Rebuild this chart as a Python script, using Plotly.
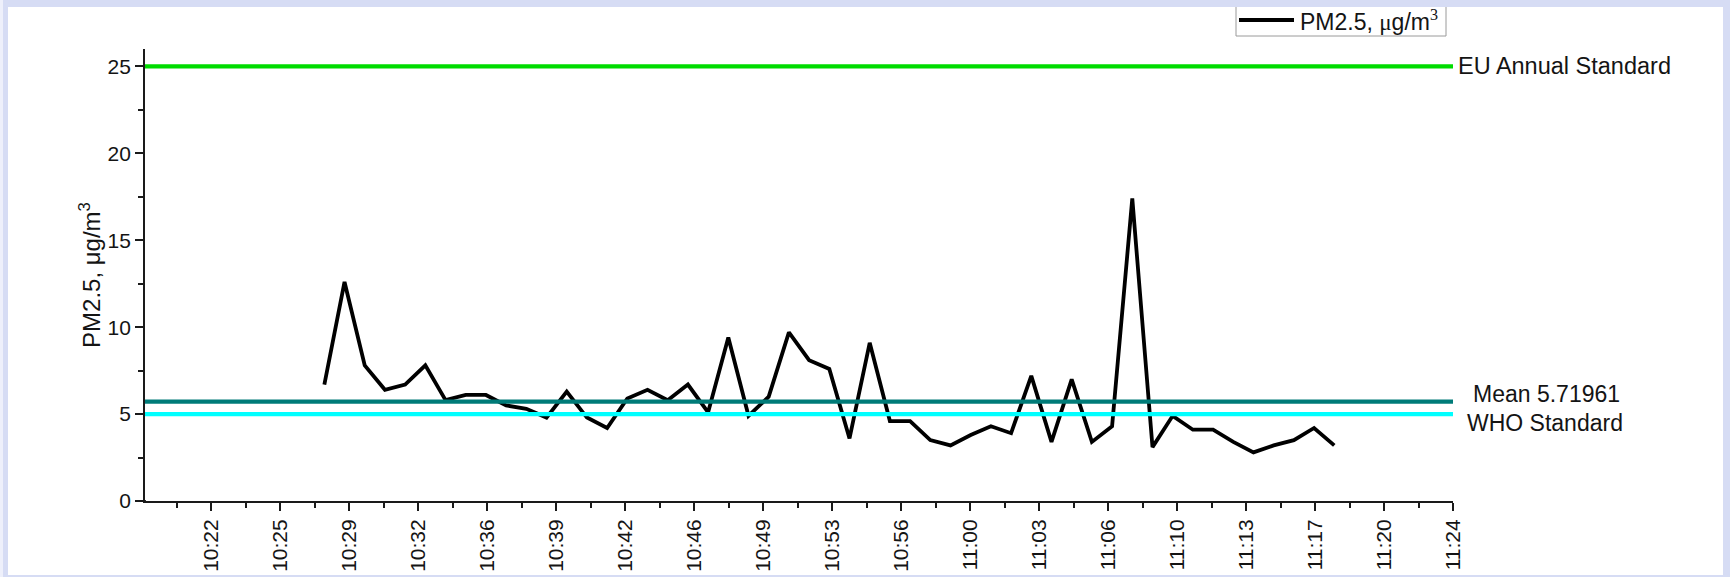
import plotly.graph_objects as go

# ---- measurement series: PM2.5 sampled once a minute ----
TIMES = [
    "10:28", "10:29", "10:30", "10:31", "10:32", "10:33", "10:34", "10:35", "10:36", "10:37",
    "10:38", "10:39", "10:40", "10:41", "10:42", "10:43", "10:44", "10:45", "10:46", "10:47",
    "10:48", "10:49", "10:50", "10:51", "10:52", "10:53", "10:54", "10:55", "10:56", "10:57",
    "10:58", "10:59", "11:00", "11:01", "11:02", "11:03", "11:04", "11:05", "11:06", "11:07",
    "11:08", "11:09", "11:10", "11:11", "11:12", "11:13", "11:14", "11:15", "11:16", "11:17",
    "11:18",
]
PM25 = [
    6.7, 12.6, 7.8, 6.4, 6.7, 7.8, 5.8, 6.1, 6.1, 5.5,
    5.3, 4.8, 6.3, 4.8, 4.2, 5.9, 6.4, 5.8, 6.7, 5.1,
    9.4, 4.9, 6.0, 9.7, 8.1, 7.6, 3.6, 9.1, 4.6, 4.6,
    3.5, 3.2, 3.8, 4.3, 3.9, 7.2, 3.4, 7.0, 3.4, 4.3,
    17.4, 3.1, 4.9, 4.1, 4.1, 3.4, 2.8, 3.2, 3.5, 4.2,
    3.2,
]

# ---- reference levels ----
EU_ANNUAL_STANDARD = 25
WHO_STANDARD = 5
MEAN_VALUE = 5.71961

# ---- axis ticks ----
X_TICK_LABELS = [
    "10:22", "10:25", "10:29", "10:32", "10:36", "10:39", "10:42", "10:46", "10:49", "10:53",
    "10:56", "11:00", "11:03", "11:06", "11:10", "11:13", "11:17", "11:20", "11:24",
]
Y_TICKS = [0, 5, 10, 15, 20, 25]
Y_MINOR_TICKS = [2.5, 7.5, 12.5, 17.5, 22.5]

# x axis is in minutes after 10:00
TICK_START = 22.39
TICK_STEP = 3.416
X_MIN = TICK_START - 0.957 * TICK_STEP
X_MAX = TICK_START + (len(X_TICK_LABELS) - 1) * TICK_STEP
Y_MIN, Y_MAX = 0, 26


def to_minutes(hhmm):
    h, m = hhmm.split(":")
    return (int(h) - 10) * 60 + int(m)


x_vals = [to_minutes(t) for t in TIMES]
x_ticks = [TICK_START + k * TICK_STEP for k in range(len(X_TICK_LABELS))]
x_minor = [TICK_START + (k - 0.5) * TICK_STEP for k in range(len(X_TICK_LABELS))]

# ---- canvas geometry (pixels) ----
W, H = 1730, 577
L, R, T, B = 145, 277, 49, 76
PW, PH = W - L - R, H - T - B


def px(xp):
    return (xp - L) / PW


def py(yp):
    return (H - B - yp) / PH


FONT = "Liberation Sans, Arial, sans-serif"
INK = "#141414"
AXIS = "#1a1a1a"

fig = go.Figure()

fig.add_trace(go.Scatter(
    x=x_vals, y=PM25, mode="lines",
    line=dict(color="#000000", width=3.8),
    name="PM2.5, μg/m<sup>3</sup>", showlegend=False,
))

# horizontal reference lines across the full x range
for level, color in [
    (EU_ANNUAL_STANDARD, "#00dc00"),
    (MEAN_VALUE, "#007b78"),
    (WHO_STANDARD, "#00ffff"),
]:
    fig.add_trace(go.Scatter(
        x=[X_MIN, X_MAX], y=[level, level], mode="lines",
        line=dict(color=color, width=4.2), showlegend=False, hoverinfo="skip",
    ))

shapes = [
    # white panel over the lavender frame
    dict(type="rect", xref="paper", yref="paper", layer="below",
         x0=px(8), x1=px(1723), y0=py(575), y1=py(7),
         fillcolor="#ffffff", line=dict(width=0)),
    dict(type="rect", xref="paper", yref="paper", layer="below",
         x0=px(0), x1=px(3), y0=py(577), y1=py(0),
         fillcolor="#eef0fb", line=dict(width=0)),
    # short stub of the x axis left of the y axis
    dict(type="line", xref="paper", yref="paper",
         x0=px(139), x1=px(146), y0=0, y1=0,
         line=dict(color=AXIS, width=1.8)),
    # legend frame (top edge hidden under the frame)
    dict(type="path", xref="paper", yref="paper",
         path=f"M {px(1236)},{py(7)} L {px(1236)},{py(36)} L {px(1446)},{py(36)} L {px(1446)},{py(7)}",
         line=dict(color="#9a9a9a", width=1)),
    # legend line sample
    dict(type="line", xref="paper", yref="paper",
         x0=px(1239), x1=px(1294), y0=py(20), y1=py(20),
         line=dict(color="#000000", width=3.8)),
]

annotations = [
    dict(text="EU Annual Standard", xref="paper", yref="y", x=1, y=EU_ANNUAL_STANDARD,
         xanchor="left", yanchor="middle", xshift=3, showarrow=False,
         font=dict(family=FONT, size=23.5, color=INK)),
    dict(text=f"Mean {MEAN_VALUE}", xref="paper", yref="y", x=px(1546), y=MEAN_VALUE,
         xanchor="center", yanchor="middle", yshift=8, showarrow=False,
         font=dict(family=FONT, size=23, color=INK)),
    dict(text="WHO Standard", xref="paper", yref="y", x=px(1545), y=WHO_STANDARD,
         xanchor="center", yanchor="middle", yshift=-9, showarrow=False,
         font=dict(family=FONT, size=23, color=INK)),
    dict(text='PM2.5, <span style="font-family:Liberation Serif">μ</span>g/m'
              '<sup><span style="font-family:Liberation Serif">3</span></sup>',
         xref="paper", yref="paper", x=px(1298), y=py(21),
         xanchor="left", yanchor="middle", showarrow=False,
         font=dict(family=FONT, size=23, color=INK)),
]

fig.update_layout(
    width=W, height=H,
    margin=dict(l=L, r=R, t=T, b=B, pad=0),
    paper_bgcolor="#d6dcf4",
    plot_bgcolor="#ffffff",
    font=dict(family=FONT, color=INK),
    shapes=shapes,
    annotations=annotations,
    showlegend=False,
    xaxis=dict(
        range=[X_MIN, X_MAX], showgrid=False, zeroline=False, automargin=False,
        showline=True, linecolor=AXIS, linewidth=1.8,
        ticks="outside", ticklen=8, tickwidth=1.8, tickcolor=AXIS,
        tickmode="array", tickvals=x_ticks, ticktext=X_TICK_LABELS,
        tickangle=-90, tickfont=dict(family=FONT, size=21, color=INK),
        minor=dict(ticks="outside", ticklen=5, tickwidth=1.6, tickcolor=AXIS,
                   tickmode="array", tickvals=x_minor),
    ),
    yaxis=dict(
        range=[Y_MIN, Y_MAX], showgrid=False, zeroline=False, automargin=False,
        showline=True, linecolor=AXIS, linewidth=1.8,
        ticks="outside", ticklen=8, tickwidth=1.8, tickcolor=AXIS,
        tickmode="array", tickvals=Y_TICKS,
        tickfont=dict(family=FONT, size=21, color=INK),
        minor=dict(ticks="outside", ticklen=5, tickwidth=1.6, tickcolor=AXIS,
                   tickmode="array", tickvals=Y_MINOR_TICKS),
        title=dict(text="PM2.5, μg/m<sup>3</sup>", standoff=0,
                   font=dict(family=FONT, size=24, color=INK)),
    ),
)

fig.write_html("out.html")
